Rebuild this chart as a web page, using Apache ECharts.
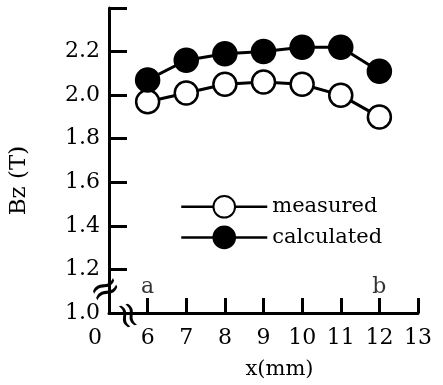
<!DOCTYPE html>
<html>
<head>
<meta charset="utf-8">
<script src="https://cdn.jsdelivr.net/npm/echarts@6/dist/echarts.min.js"></script>
<style>
  html, body { margin: 0; padding: 0; background: #fff; }
  #chart { width: 443px; height: 385px; }
</style>
</head>
<body>
<div id="chart"></div>
<script>
const xValues = [6, 7, 8, 9, 10, 11, 12];
const measured = [1.97, 2.01, 2.05, 2.06, 2.05, 2.0, 1.9];
const calculated = [2.07, 2.16, 2.19, 2.2, 2.22, 2.22, 2.11];
const endLabels = [
  { x: 6, y: 1.12, name: "a" },
  { x: 12, y: 1.12, name: "b" },
];

const font = "DejaVu Serif";
const myChart = echarts.init(document.getElementById("chart"));

const lineSeries = (name, values, fill) => ({
  name,
  type: "line",
  data: xValues.map((x, i) => [x, values[i]]),
  symbol: "circle",
  symbolSize: 23,
  lineStyle: { color: "#000", width: 3 },
  itemStyle: { color: fill, borderColor: "#000", borderWidth: 2.5 },
  emphasis: { disabled: true },
  z: 3,
});

myChart.setOption({
  animation: false,
  textStyle: { fontFamily: font, color: "#000" },
  grid: { left: 107, right: 25, top: 8, bottom: 71 },
  legend: {
    orient: "vertical",
    left: 175,
    top: 190,
    itemWidth: 86,
    itemHeight: 27,
    itemGap: 7,
    lineStyle: { width: 2.5 },
    textStyle: { fontFamily: font, fontSize: 21, color: "#000" },
    data: ["measured", "calculated"],
  },
  xAxis: {
    type: "value",
    min: 5,
    max: 13,
    interval: 1,
    name: "x(mm)",
    nameLocation: "middle",
    nameGap: 46,
    nameTextStyle: { fontFamily: font, fontSize: 21, color: "#000", padding: [0, 0, 0, 32] },
    splitLine: { show: false },
    axisLine: { lineStyle: { color: "#000", width: 3 } },
    axisTick: { inside: true, length: 15, lineStyle: { color: "#000", width: 3 } },
    axisLabel: {
      fontFamily: font,
      fontSize: 22,
      color: "#000",
      margin: 14,
      formatter: (v) => (v === 5 ? "{z|0}" : String(v)),
      rich: { z: { fontFamily: font, fontSize: 22, color: "#000", padding: [0, 28, 0, 0] } },
    },
  },
  yAxis: {
    type: "value",
    min: 1.0,
    max: 2.4,
    interval: 0.2,
    name: "Bz (T)",
    nameLocation: "middle",
    nameGap: 78,
    nameTextStyle: { fontFamily: font, fontSize: 23, color: "#000", padding: [0, 40, 0, 0] },
    splitLine: { show: false },
    axisLine: { lineStyle: { color: "#000", width: 3 } },
    axisTick: { inside: true, length: 18, lineStyle: { color: "#000", width: 3 } },
    axisLabel: {
      fontFamily: font,
      fontSize: 22,
      color: "#000",
      margin: 9,
      formatter: (v) => (v > 2.3 ? "" : v.toFixed(1)),
    },
  },
  graphic: [
    {
      type: "text",
      x: 106,
      y: 291,
      rotation: 0.45,
      style: { text: "≈", font: "38px " + font, fill: "#000", align: "center", verticalAlign: "middle" },
    },
    {
      type: "text",
      x: 126,
      y: 316,
      rotation: -1.3,
      style: { text: "≈", font: "36px " + font, fill: "#000", align: "center", verticalAlign: "middle", backgroundColor: "#fff" },
    },
  ],
  series: [
    lineSeries("measured", measured, "#fff"),
    lineSeries("calculated", calculated, "#000"),
    {
      type: "scatter",
      data: endLabels.map((d) => ({ value: [d.x, d.y], name: d.name })),
      symbolSize: 0,
      silent: true,
      label: {
        show: true,
        position: "inside",
        formatter: (p) => p.name,
        fontFamily: font,
        fontSize: 22,
        color: "#000",
      },
    },
  ],
});
</script>
</body>
</html>
